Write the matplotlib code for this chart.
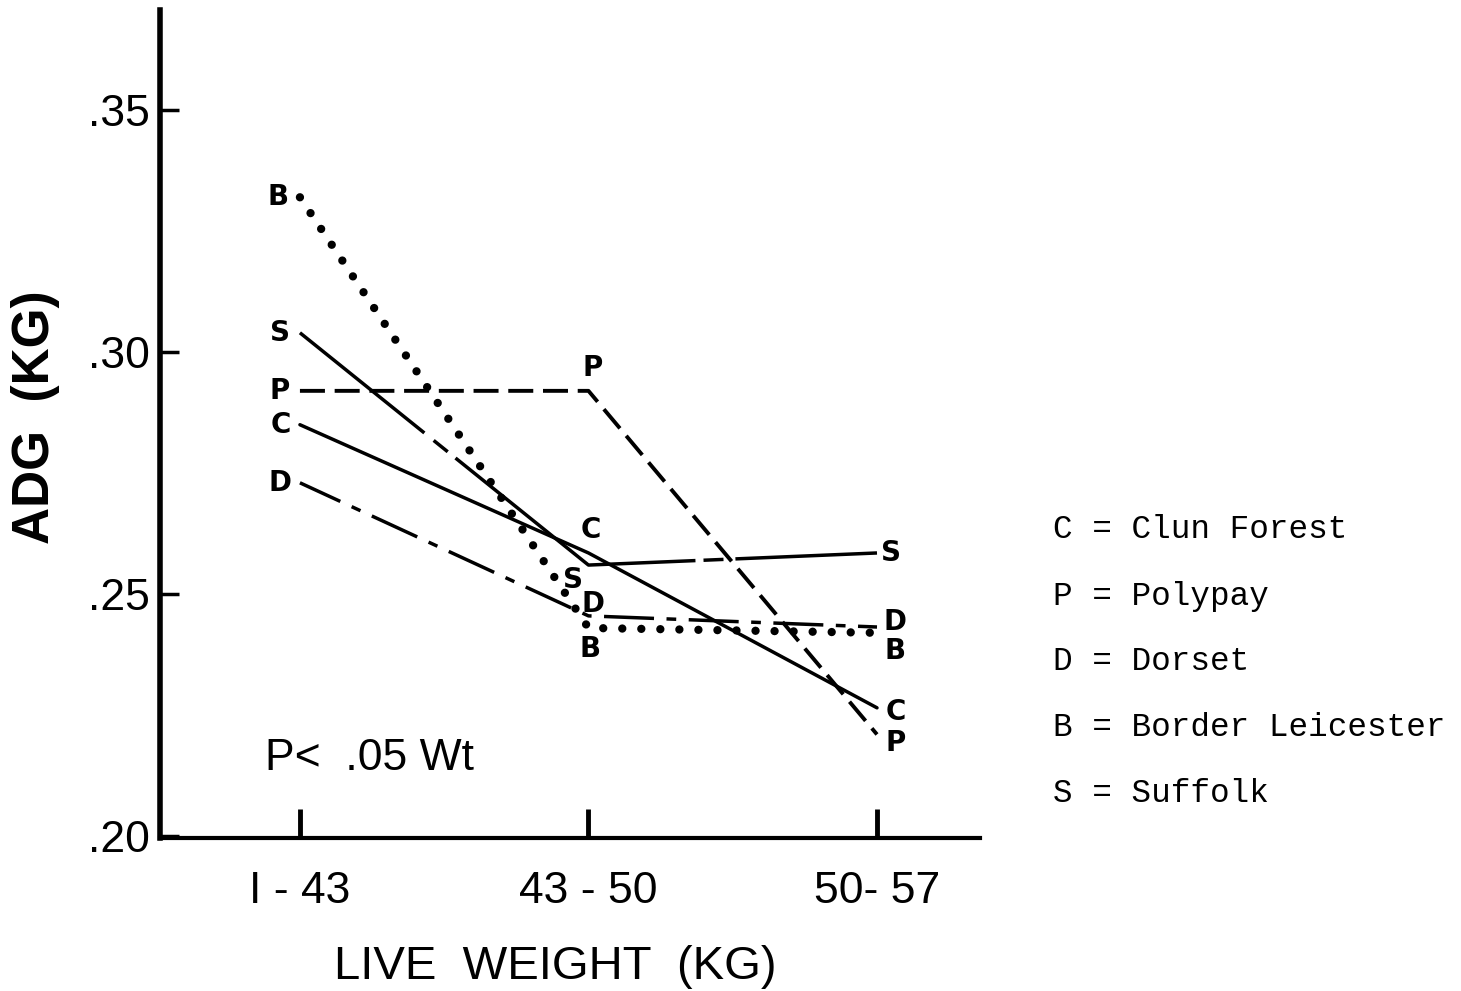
import matplotlib.pyplot as plt

# live weight classes (x) and average daily gain per breed (y)
weight_classes = ['I - 43', '43 - 50', '50- 57']
clun_forest = [0.285, 0.2585, 0.2265]
polypay = [0.292, 0.292, 0.221]
dorset = [0.273, 0.2455, 0.2432]
border_leicester = [0.332, 0.243, 0.2420]
suffolk = [0.304, 0.256, 0.2585]

legend_lines = ['C = Clun Forest', 'P = Polypay', 'D = Dorset',
                'B = Border Leicester', 'S = Suffolk']

plt.rcParams['lines.scale_dashes'] = False
plt.rcParams['font.family'] = ['Liberation Sans', 'DejaVu Sans']

fig = plt.figure(figsize=(14.61, 9.91), dpi=100)
ax = fig.add_axes([160 / 1461, 1 - 838 / 991, 820 / 1461, 828 / 991])

x = range(len(weight_classes))
ax.plot(x, clun_forest, color='black', lw=2.5, solid_capstyle='round')
ax.plot(x, polypay, color='black', lw=2.8, linestyle=(0, (18, 7)))
ax.plot(x, dorset, color='black', lw=2.5, linestyle=(4, (36, 9, 7, 9)))
ax.plot(x, border_leicester, color='black', lw=6,
        linestyle=(0, (0.01, 13.7)), dash_capstyle='round')
ax.plot(x, suffolk, color='black', lw=2.5,
        linestyle=(0, (115, 8.6, 13, 7.2, 200, 5.8, 14.4, 8.6, 150)))

# letter tags next to the points (offsets in points)
tags = [
    ('B', border_leicester, [(-16, 0), (1.5, -15), (13, -13)]),
    ('S', suffolk, [(-14.5, 0), (-10.8, -10.8), (10, 0)]),
    ('P', polypay, [(-14.5, 0), (3, 16.5), (13.7, -6)]),
    ('C', clun_forest, [(-14, 0), (2, 16.5), (13.7, -3)]),
    ('D', dorset, [(-14, 0), (3.6, 8.2), (13, 3.6)]),
]
for letter, values, offsets in tags:
    for i, (val, off) in enumerate(zip(values, offsets)):
        ax.annotate(letter, (i, val), xytext=off, textcoords='offset points',
                    ha='center', va='center', fontsize=20, fontweight='bold',
                    family='DejaVu Sans')

ax.text(-0.121, 0.2136, 'P<  .05 Wt', fontsize=32, va='baseline', ha='left')

ax.set_xlim(-0.485, 2.357)
ax.set_ylim(0.1996, 0.3707)
ax.set_xticks(list(x))
ax.set_xticklabels(weight_classes)
ax.set_yticks([0.20, 0.25, 0.30, 0.35])
ax.set_yticklabels(['.20', '.25', '.30', '.35'])

ax.spines['top'].set_visible(False)
ax.spines['right'].set_visible(False)
ax.spines['left'].set_linewidth(4)
ax.spines['bottom'].set_linewidth(3)
ax.tick_params(axis='y', direction='in', length=14, width=2.5, pad=7,
               labelsize=32)
ax.tick_params(axis='x', direction='in', length=21, width=3.5, pad=24,
               labelsize=32)

ax.set_xlabel('LIVE  WEIGHT  (KG)', fontsize=34)
ax.xaxis.label.set_va('baseline')
ax.xaxis.set_label_coords(0.482, (838 - 979) / 828)
ax.set_ylabel('ADG  (KG)', fontsize=37, fontweight='bold')
ax.yaxis.label.set_va('center')
ax.yaxis.set_label_coords(-0.152, 0.508)

for i, line in enumerate(legend_lines):
    fig.text(1053 / 1461, 1 - (530 + 66 * i) / 991, line, fontsize=23.5,
             family='Liberation Mono', va='center', ha='left')

fig.savefig('out.png', dpi=100)
